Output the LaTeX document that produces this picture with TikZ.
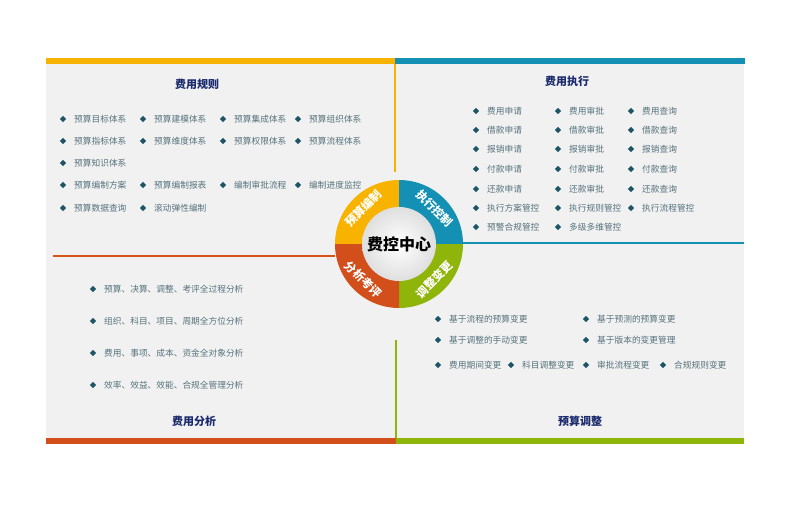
\documentclass[tikz,border=0pt]{standalone}
\usepackage{fontspec}
\setmainfont{Noto Sans CJK SC}
\usetikzlibrary{shapes.geometric,calc}
\definecolor{cor}{HTML}{F8B300}
\definecolor{cte}{HTML}{1390B4}
\definecolor{cgr}{HTML}{8FB40A}
\definecolor{cre}{HTML}{D24F1C}
\definecolor{panel}{HTML}{F1F1F1}
\definecolor{navy}{HTML}{1A2A6C}
\definecolor{itemc}{HTML}{56727C}
\definecolor{bulc}{HTML}{1E5566}
\tikzset{
  bul/.style={diamond, fill=bulc, inner sep=0pt, minimum size=6.5pt},
  itemtxt/.style={anchor=west, inner sep=0pt, text=itemc, font=\fontsize{8.7}{10}\selectfont},
  ttl/.style={text=navy, font=\bfseries\fontsize{11}{13}\selectfont, inner sep=0pt},
  ringlbl/.style={text=white, font=\bfseries\fontsize{11.5}{13}\selectfont, inner sep=0pt},
  bar/.style={line width=2pt}
}
\newcommand\itm[4]{\node[bul] (b#1) at (#2,#3) {}; \node[itemtxt] (t#1) at (#2+11,#3) {#4};}
\begin{document}
\begin{tikzpicture}[x=1pt,y=-1pt]
\useasboundingbox (0,0) rectangle (789,506);
\fill[white] (0,0) rectangle (789,506);
% panels
\fill[panel] (46,64) rectangle (744,438);
\fill[cor] (46,58) rectangle (395,64);
\fill[cte] (395,58) rectangle (745,64);
\fill[cre] (46,438) rectangle (396,444);
\fill[cgr] (396,438) rectangle (744,444);
\coordinate (ov1) at (395,64); \coordinate (ov2) at (395,172);
\draw[bar,cor] (ov1) -- (ov2);
\coordinate (gv1) at (396,340); \coordinate (gv2) at (396,438);
\draw[bar,cgr] (gv1) -- (gv2);
\coordinate (th1) at (460,243); \coordinate (th2) at (744,243);
\draw[bar,cte] (th1) -- (th2);
\coordinate (rh1) at (53,256); \coordinate (rh2) at (335,256);
\draw[bar,cre!90!orange] (rh1) -- (rh2);
% titles
\node[ttl] (T1) at (197,84) {费用规则};
\node[ttl] (T2) at (567,81) {费用执行};
\node[ttl] (T3) at (194,421) {费用分析};
\node[ttl] (T4) at (580,421) {预算调整};
% top-left items
\itm{a1}{63}{119}{预算目标体系}\itm{a2}{143}{119}{预算建模体系}\itm{a3}{223}{119}{预算集成体系}\itm{a4}{298}{119}{预算组织体系}
\itm{a5}{63}{141}{预算指标体系}\itm{a6}{143}{141}{预算维度体系}\itm{a7}{223}{141}{预算权限体系}\itm{a8}{298}{141}{预算流程体系}
\itm{a9}{63}{163}{预算知识体系}
\itm{a10}{63}{185}{预算编制方案}\itm{a11}{143}{185}{预算编制报表}\itm{a12}{223}{185}{编制审批流程}\itm{a13}{298}{185}{编制进度监控}
\itm{a14}{63}{208}{预算数据查询}\itm{a15}{143}{208}{滚动弹性编制}
% top-right items
\itm{e1}{476}{111}{费用申请}\itm{e2}{558}{111}{费用审批}\itm{e3}{631}{111}{费用查询}
\itm{e4}{476}{130}{借款申请}\itm{e5}{558}{130}{借款审批}\itm{e6}{631}{130}{借款查询}
\itm{e7}{476}{149}{报销申请}\itm{e8}{558}{149}{报销审批}\itm{e9}{631}{149}{报销查询}
\itm{e10}{476}{169}{付款申请}\itm{e11}{558}{169}{付款审批}\itm{e12}{631}{169}{付款查询}
\itm{e13}{476}{189}{还款申请}\itm{e14}{558}{189}{还款审批}\itm{e15}{631}{189}{还款查询}
\itm{e16}{476}{208}{执行方案管控}\itm{e17}{558}{208}{执行规则管控}\itm{e18}{631}{208}{执行流程管控}
\itm{e19}{476}{227}{预警合规管控}\itm{e20}{558}{227}{多级多维管控}
% bottom-left items
\itm{f1}{93}{289}{预算、决算、调整、考评全过程分析}
\itm{f2}{93}{321}{组织、科目、项目、周期全方位分析}
\itm{f3}{93}{353}{费用、事项、成本、资金全对象分析}
\itm{f4}{93}{385}{效率、效益、效能、合规全管理分析}
% bottom-right items
\itm{g1}{438}{319}{基于流程的预算变更}\itm{g2}{586}{319}{基于预测的预算变更}
\itm{g3}{438}{340}{基于调整的手动变更}\itm{g4}{586}{340}{基于版本的变更管理}
\itm{g5}{438}{365}{费用期间变更}\itm{g6}{511}{365}{科目调整变更}\itm{g7}{586}{365}{审批流程变更}\itm{g8}{663}{365}{合规规则变更}
% ring
\coordinate (C) at (399,244);
\fill[cor] (C) -- ++(90:64pt) arc[start angle=90,end angle=180,radius=64pt] -- cycle;
\fill[cte] (C) -- ++(0:64pt) arc[start angle=0,end angle=90,radius=64pt] -- cycle;
\fill[cgr] (C) -- ++(270:64pt) arc[start angle=270,end angle=360,radius=64pt] -- cycle;
\fill[cre] (C) -- ++(180:64pt) arc[start angle=180,end angle=270,radius=64pt] -- cycle;
\shade[inner color=white, outer color=gray!25] (C) circle[radius=37pt];
\node[font=\bfseries\fontsize{16}{18}\selectfont, inner sep=0pt] (center) at (C) {费控中心};
\node[ringlbl, rotate=45] (r1) at ($(C)+(135:50.5pt)$) {预算编制};
\node[ringlbl, rotate=-45] (r2) at ($(C)+(45:50.5pt)$) {执行控制};
\node[ringlbl, rotate=45] (r3) at ($(C)+(-45:50.5pt)$) {调整变更};
\node[ringlbl, rotate=-45] (r4) at ($(C)+(225:50.5pt)$) {分析考评};
\end{tikzpicture}
\end{document}
